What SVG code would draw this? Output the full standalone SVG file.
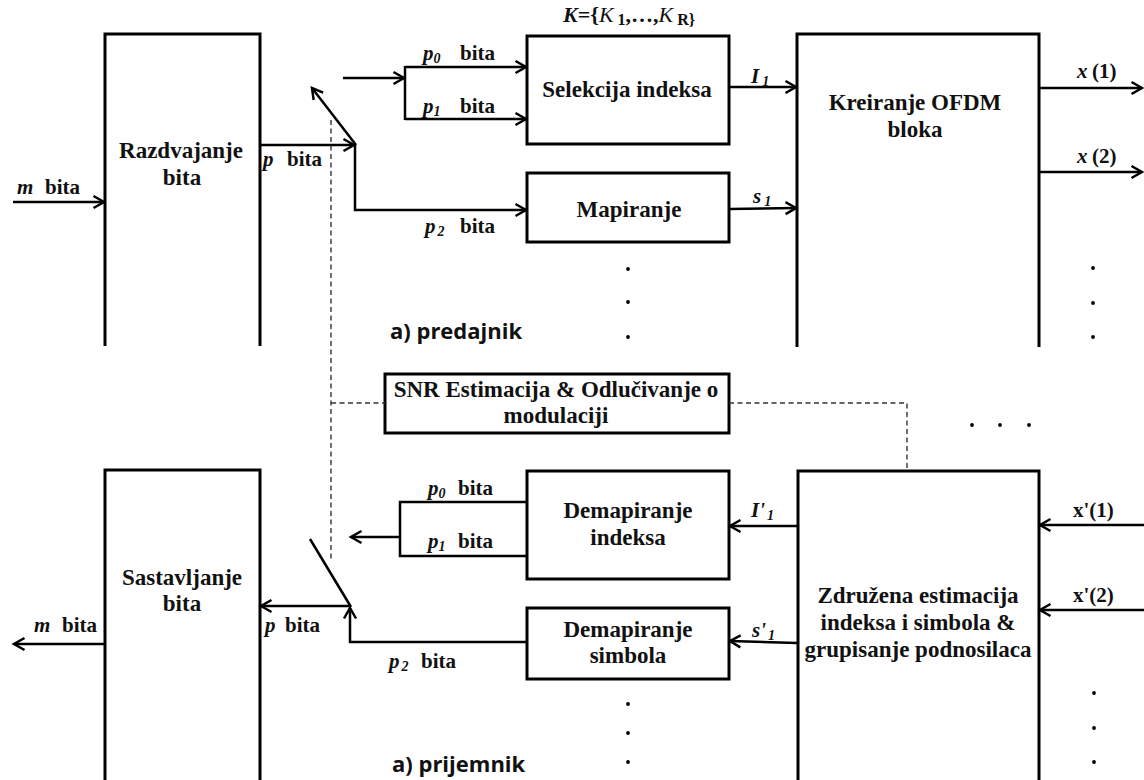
<svg xmlns="http://www.w3.org/2000/svg" width="1144" height="780" viewBox="0 0 1144 780">
  <defs>
    <marker id="ah" markerWidth="14" markerHeight="14" refX="12" refY="7" orient="auto" markerUnits="userSpaceOnUse" overflow="visible">
      <path d="M1.5,1 L12,7 L1.5,13" fill="none" stroke="#000" stroke-width="2.5"/>
    </marker>
    <style>
      .box { fill: none; stroke: #000; stroke-width: 3; }
      .ln { fill: none; stroke: #000; stroke-width: 2.5; }
      .arr { marker-end: url(#ah); }
      .dash { fill: none; stroke: #333; stroke-width: 1.4; stroke-dasharray: 5 3.5; }
      .t { font-family: "Liberation Serif", "Times New Roman", serif; font-weight: bold; font-size: 23px; fill: #111; }
      .mid { text-anchor: middle; }
      .lbl { font-size: 21px; }
      .it { font-style: italic; }
      .sub { font-size: 14px; }
      .cap { font-family: "Open Sans", "Noto Sans", sans-serif; font-weight: bold; font-size: 22px; fill: #111; }
      .dot { fill: #000; }
    </style>
  </defs>

  <!-- ===================== transmitter ===================== -->
  <g id="razdvajanje">
    <path class="box" d="M105,346 V34 H260 V346"/>
    <text class="t mid" x="181" y="158">Razdvajanje</text>
    <text class="t mid" x="182" y="185">bita</text>
  </g>

  <g id="selekcija">
    <rect class="box" x="527" y="36" width="202" height="108"/>
    <text class="t mid" x="627" y="97">Selekcija indeksa</text>
  </g>

  <g id="mapiranje">
    <rect class="box" x="527" y="173" width="202" height="69"/>
    <text class="t mid" x="629" y="217">Mapiranje</text>
  </g>

  <g id="kreiranje">
    <path class="box" d="M797,347 V34 H1039 V347"/>
    <text class="t mid" x="915" y="110">Kreiranje OFDM</text>
    <text class="t mid" x="915" y="137">bloka</text>
  </g>

  <!-- ===================== shared control ===================== -->
  <g id="snr">
    <rect class="box" x="385" y="374" width="344" height="59"/>
    <text class="t mid" x="556" y="397">SNR Estimacija &amp; Odlučivanje o</text>
    <text class="t mid" x="556" y="423">modulaciji</text>
  </g>

  <!-- ===================== receiver ===================== -->
  <g id="sastavljanje">
    <path class="box" d="M105,780 V470 H260 V780"/>
    <text class="t mid" x="182" y="585">Sastavljanje</text>
    <text class="t mid" x="182" y="611">bita</text>
  </g>

  <g id="demap-indeksa">
    <rect class="box" x="527" y="471" width="202" height="108"/>
    <text class="t mid" x="628" y="518">Demapiranje</text>
    <text class="t mid" x="628" y="545">indeksa</text>
  </g>

  <g id="demap-simbola">
    <rect class="box" x="527" y="608" width="202" height="71"/>
    <text class="t mid" x="628" y="637">Demapiranje</text>
    <text class="t mid" x="628" y="663">simbola</text>
  </g>

  <g id="zdruzena">
    <path class="box" d="M798,780 V471 H1039 V780"/>
    <text class="t mid" x="918" y="603">Združena estimacija</text>
    <text class="t mid" x="918" y="630">indeksa i simbola &amp;</text>
    <text class="t mid" x="918" y="657">grupisanje podnosilaca</text>
  </g>

  <!-- ===================== connectors ===================== -->
  <g id="connectors">
    <!-- transmitter -->
    <line class="ln arr" x1="13" y1="202" x2="104" y2="202"/>
    <line class="ln arr" x1="260" y1="145" x2="354" y2="145"/>
    <line class="ln arr" x1="356" y1="145" x2="312" y2="88"/>
    <polyline class="ln arr" points="355,144 355,210 526,210"/>
    <line class="ln arr" x1="343" y1="78" x2="404" y2="78"/>
    <line class="ln" x1="405" y1="66" x2="405" y2="120"/>
    <line class="ln arr" x1="405" y1="67" x2="526" y2="67"/>
    <line class="ln arr" x1="405" y1="119" x2="526" y2="119"/>
    <line class="ln arr" x1="729" y1="87" x2="796" y2="87"/>
    <line class="ln arr" x1="729" y1="209" x2="796" y2="208"/>
    <line class="ln arr" x1="1039" y1="88" x2="1142" y2="88"/>
    <line class="ln arr" x1="1039" y1="172" x2="1142" y2="172"/>

    <!-- receiver -->
    <line class="ln arr" x1="1144" y1="525" x2="1040" y2="525"/>
    <line class="ln arr" x1="1144" y1="610" x2="1040" y2="610"/>
    <line class="ln arr" x1="797" y1="526" x2="730" y2="526"/>
    <line class="ln arr" x1="797" y1="643" x2="730" y2="641"/>
    <polyline class="ln" points="527,502 400,502 400,556 527,556"/>
    <line class="ln arr" x1="400" y1="537" x2="351" y2="537"/>
    <line class="ln" x1="310" y1="539" x2="351" y2="607"/>
    <line class="ln arr" x1="351" y1="606" x2="261" y2="606"/>
    <polyline class="ln arr" points="527,642 350,642 350,608"/>
    <line class="ln arr" x1="104" y1="644" x2="14" y2="644"/>

    <!-- control (dashed) -->
    <line class="dash" x1="331" y1="120" x2="331" y2="561"/>
    <line class="dash" x1="331" y1="403" x2="385" y2="403"/>
    <polyline class="dash" points="729,403 907,403 907,471"/>
  </g>

  <!-- ===================== labels ===================== -->
  <g id="labels">
    <text class="t lbl" x="17" y="194"><tspan class="it">m</tspan><tspan x="45">bita</tspan></text>
    <text class="t lbl" x="263" y="166"><tspan class="it">p</tspan><tspan x="287">bita</tspan></text>
    <text class="t lbl" x="423" y="60"><tspan class="it">p</tspan><tspan class="it sub" dy="3">0</tspan><tspan x="460" dy="-3">bita</tspan></text>
    <text class="t lbl" x="423" y="113"><tspan class="it">p</tspan><tspan class="it sub" dy="3">1</tspan><tspan x="460" dy="-3">bita</tspan></text>
    <text class="t lbl" x="425" y="233"><tspan class="it">p</tspan><tspan class="it sub" dy="3" dx="2">2</tspan><tspan x="460" dy="-3">bita</tspan></text>
    <text class="t lbl" x="563" y="22" style="font-size:22px"><tspan class="it">K</tspan>={<tspan class="it" font-weight="normal">K</tspan><tspan class="sub" style="font-size:16px" dx="4" dy="3">1</tspan><tspan dy="-3">,…,</tspan><tspan class="it" font-weight="normal">K</tspan><tspan class="sub" style="font-size:16px" dx="4" dy="3">R}</tspan></text>
    <text class="t lbl" x="751" y="83"><tspan class="it">I</tspan><tspan class="it sub" dx="3" dy="3">1</tspan></text>
    <text class="t lbl" x="753" y="203"><tspan class="it">s</tspan><tspan class="it sub" dx="3" dy="3">1</tspan></text>
    <text class="t lbl" x="1077" y="78"><tspan class="it">x</tspan><tspan x="1092">(1)</tspan></text>
    <text class="t lbl" x="1077" y="163"><tspan class="it">x</tspan><tspan x="1092">(2)</tspan></text>
    <text class="cap" x="390" y="339">a) predajnik</text>

    <text class="t lbl" x="428" y="495"><tspan class="it">p</tspan><tspan class="it sub" dy="3">0</tspan><tspan x="458" dy="-3">bita</tspan></text>
    <text class="t lbl" x="428" y="548"><tspan class="it">p</tspan><tspan class="it sub" dy="3">1</tspan><tspan x="458" dy="-3">bita</tspan></text>
    <text class="t lbl" x="389" y="668"><tspan class="it">p</tspan><tspan class="it sub" dy="3" dx="2">2</tspan><tspan x="421" dy="-3">bita</tspan></text>
    <text class="t lbl" x="265" y="632"><tspan class="it">p</tspan><tspan x="285">bita</tspan></text>
    <text class="t lbl" x="34" y="632"><tspan class="it">m</tspan><tspan x="62">bita</tspan></text>
    <text class="t lbl" x="751" y="517"><tspan class="it">I'</tspan><tspan class="it sub" dx="2" dy="3">1</tspan></text>
    <text class="t lbl" x="752" y="637"><tspan class="it">s'</tspan><tspan class="it sub" dx="2" dy="3">1</tspan></text>
    <text class="t lbl" x="1073" y="517">x'(1)</text>
    <text class="t lbl" x="1073" y="602">x'(2)</text>
    <text class="cap" x="392" y="772">a) prijemnik</text>
  </g>

  <!-- ===================== ellipsis dots ===================== -->
  <g id="dots">
    <circle class="dot" cx="628" cy="269" r="1.9"/>
    <circle class="dot" cx="628" cy="302" r="1.9"/>
    <circle class="dot" cx="628" cy="337" r="1.9"/>
    <circle class="dot" cx="1093" cy="268" r="1.9"/>
    <circle class="dot" cx="1093" cy="303" r="1.9"/>
    <circle class="dot" cx="1093" cy="337" r="1.9"/>
    <circle class="dot" cx="972" cy="425" r="1.9"/>
    <circle class="dot" cx="1000" cy="425" r="1.9"/>
    <circle class="dot" cx="1029" cy="425" r="1.9"/>
    <circle class="dot" cx="628" cy="704" r="1.9"/>
    <circle class="dot" cx="628" cy="733" r="1.9"/>
    <circle class="dot" cx="628" cy="762" r="1.9"/>
    <circle class="dot" cx="1094" cy="693" r="1.9"/>
    <circle class="dot" cx="1094" cy="728" r="1.9"/>
    <circle class="dot" cx="1094" cy="762" r="1.9"/>
  </g>
</svg>
